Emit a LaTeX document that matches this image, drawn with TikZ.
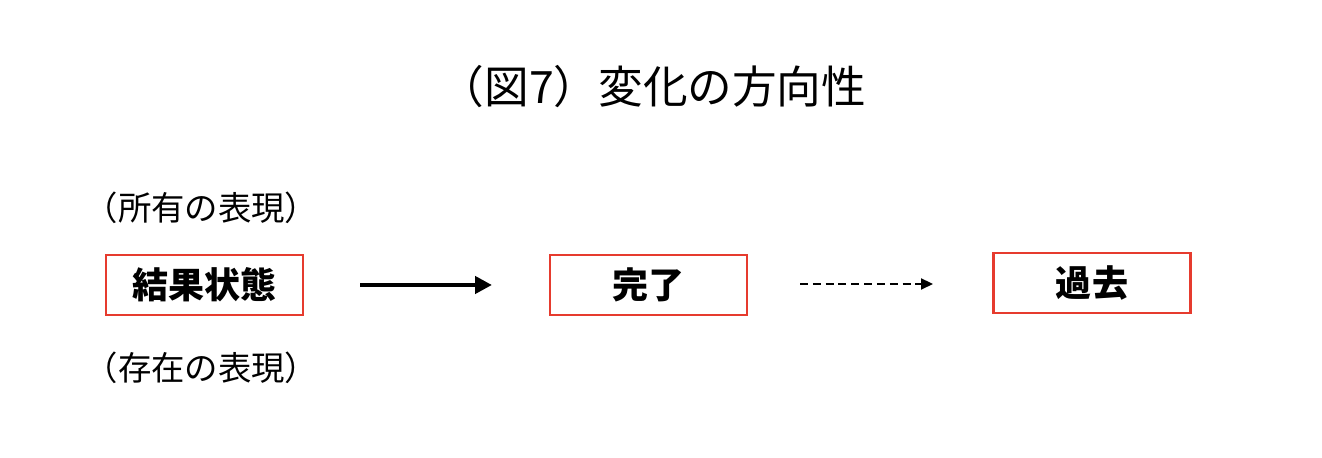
\documentclass[tikz,border=0pt]{standalone}
\usepackage{fontspec}
\usepackage{tikz}
\usetikzlibrary{arrows.meta,positioning}
\newfontfamily\cjk{Noto Sans CJK JP}
\definecolor{boxRed}{HTML}{E63B2E}

\begin{document}
\begin{tikzpicture}[font=\cjk,
  st/.style={draw=boxRed,line width=1.3pt,minimum width=3.94cm,
             minimum height=1.2cm,inner sep=0pt,font=\cjk\bfseries\fontsize{20.5}{24}\selectfont},
  lbl/.style={font=\cjk\fontsize{19}{23}\selectfont},
  a/.style={-{Triangle[length=3.4mm,width=3.4mm]},line width=2.6pt},
  ad/.style={-{Triangle[length=2.4mm,width=2.2mm]},line width=1.2pt,dash pattern=on 4.5pt off 2.8pt}]
\useasboundingbox (0,0) rectangle (26.44,9.16);
\node (title) at (13.06,7.42) {\fontsize{25.4}{30}\selectfont（図7）変化の方向性};
\node[st] (res) at (4.09,3.46) {結果状態};
\node[st] (perf) at (12.97,3.46) {完了};
\node[st] (past) at (21.84,3.5) {過去};
\node[lbl] (own) at (4.03,5.0) {（所有の表現）};
\node[lbl] (exist) at (4.03,1.8) {（存在の表現）};
\coordinate (a1s) at (7.2,3.46);
\coordinate (a1e) at (9.84,3.46);
\coordinate (a2s) at (16.0,3.48);
\coordinate (a2e) at (18.66,3.48);
\draw[a] (a1s) -- (a1e);
\draw[ad] (a2s) -- (a2e);
\end{tikzpicture}
\end{document}
